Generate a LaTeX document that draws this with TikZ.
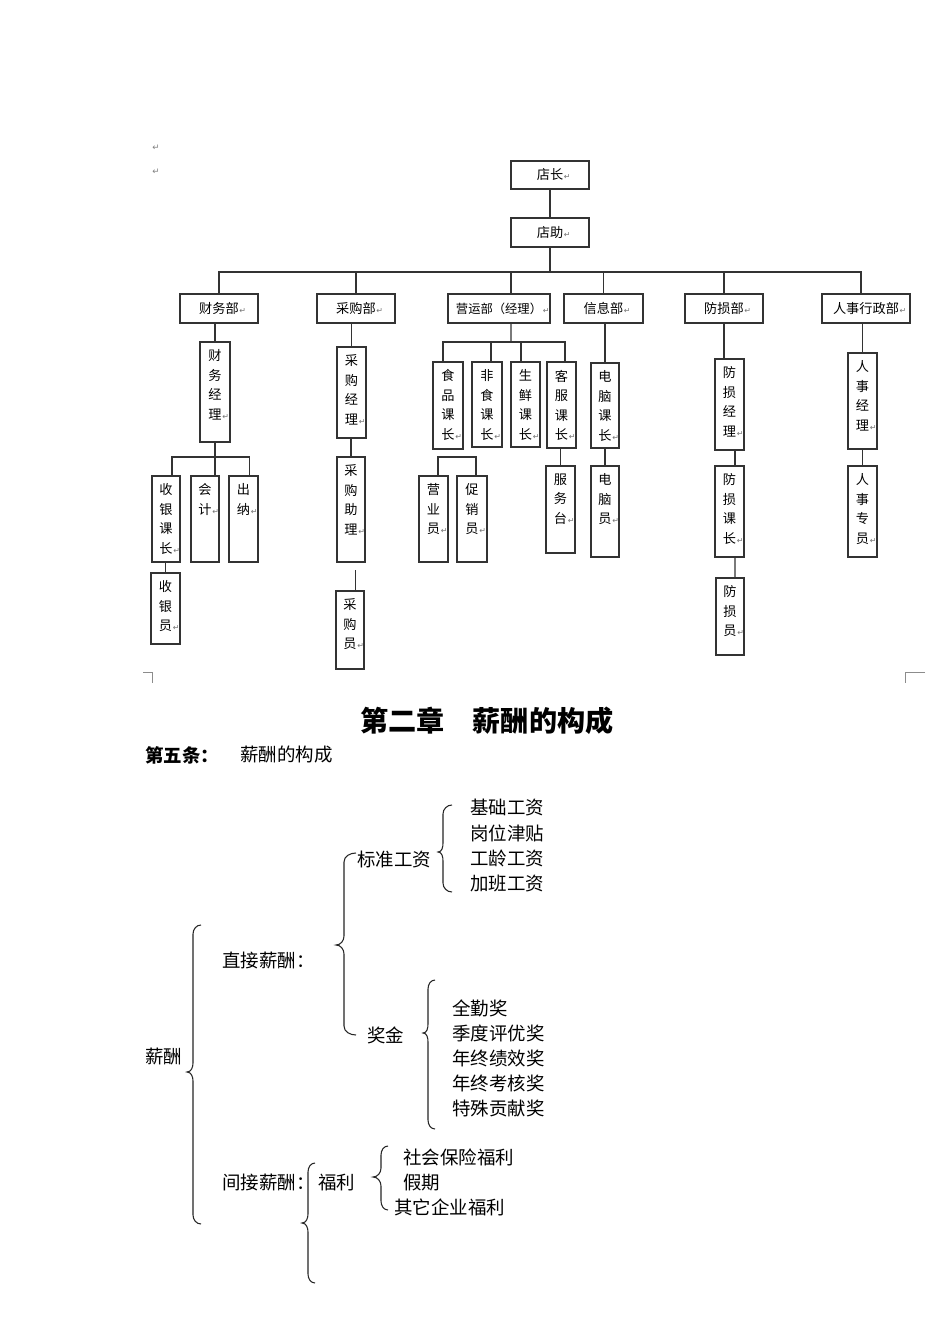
\documentclass[tikz,border=0pt]{standalone}
\usepackage{fontspec}
\usepackage{tikz}
\newfontfamily\cjk{Noto Sans CJK SC}
\newfontfamily\arrowfont{DejaVu Sans}

% paragraph mark that hangs after the text
\newcommand{\ret}{\rlap{\kern0.4pt\arrowfont\fontsize{4.5}{4.5}\selectfont\textcolor{black!55}{↵}}}

\tikzset{
  cell/.style={draw=black!80, line width=0.6pt, inner sep=0pt},
  hfont/.style={font=\cjk\fontsize{7.5}{9}\selectfont},
  vtxt/.style={anchor=north, inner sep=0pt, yshift=-0.16cm, align=center,
    font=\cjk\fontsize{7.5}{11.1}\selectfont},
  link/.style={draw=black!80, line width=0.6pt},
  brace/.style={draw=black!85, line width=0.6pt},
  body/.style={anchor=west, inner sep=0pt, font=\cjk\fontsize{10.5}{12}\selectfont},
  bodyb/.style={body, font=\cjk\bfseries\fontsize{10.5}{12}\selectfont},
  title/.style={anchor=west, inner sep=0pt, font=\cjk\bfseries\fontsize{16}{18}\selectfont},
  pmark/.style={inner sep=0pt, text=black!50, font=\arrowfont\fontsize{5}{5}\selectfont},
  corner/.style={draw=black!45, line width=0.5pt}
}

% name, x1, y1, x2, y2, text (pixels)
\newcommand{\hcell}[6]{%
  \node[cell, hfont, minimum width={(#4-#2)*0.02cm}, minimum height={(#5-#3)*0.02cm}]
    (#1) at ({(#2+#4)/2},{(#3+#5)/2}) {#6\ret};}
\newcommand{\vcell}[6]{%
  \node[cell, minimum width={(#4-#2)*0.02cm}, minimum height={(#5-#3)*0.02cm}]
    (#1) at ({(#2+#4)/2},{(#3+#5)/2}) {};
  \node[vtxt] (#1-t) at (#1.north) {#6\ret};}
% x of the curls, x of the stem, x of the tip, top, tip, bottom
\newcommand{\wbrace}[6]{%
  \draw[brace] (#1,#4) to[out=180,in=90] (#2,#4+9) -- (#2,#5-9)
    to[out=-90,in=0] (#3,#5) to[out=0,in=90] (#2,#5+9) -- (#2,#6-9)
    to[out=-90,in=180] (#1,#6);}

\begin{document}
\begin{tikzpicture}[x=0.02cm, y=-0.02cm]
\fill[white] (0,0) rectangle (950,1344);
\useasboundingbox (0,0) rectangle (950,1344);

\node[pmark] (p1) at (156,148) {↵};
\node[pmark] (p2) at (156,172) {↵};

% top of the chart
\hcell{dz}{511}{161}{589}{189}{店长}
\hcell{dzhu}{511}{218}{589}{247}{店助}
\hcell{cwb}{180}{294}{258}{323}{财务部}
\hcell{cgb}{317}{294}{395}{323}{采购部}
\hcell{yyb}{448}{294}{550}{323}{\fontsize{7}{9}\selectfont 营运部（经理）}
\hcell{xxb}{564}{294}{643}{323}{信息部}
\hcell{fsb}{685}{294}{763}{323}{防损部}
\hcell{rsb}{822}{294}{910}{323}{人事行政部}

\vcell{cwjl}{200}{342}{230}{442}{财\\务\\经\\理}
\vcell{syk}{152}{476}{180}{562}{收\\银\\课\\长}
\vcell{kj}{191}{476}{219}{562}{会\\计}
\vcell{cn}{229}{476}{258}{562}{出\\纳}
\vcell{syy}{151}{573}{180}{644}{收\\银\\员}

\vcell{cgjl}{337}{347}{366}{438}{采\\购\\经\\理}
\vcell{cgzl}{337}{457}{365}{562}{采\\购\\助\\理}
\vcell{cgy}{336}{591}{364}{669}{采\\购\\员}

\vcell{shipin}{433}{362}{463}{449}{食\\品\\课\\长}
\vcell{feishi}{472}{362}{502}{447}{非\\食\\课\\长}
\vcell{shengxian}{511}{362}{540}{447}{生\\鲜\\课\\长}
\vcell{kefu}{547}{362}{576}{448}{客\\服\\课\\长}
\vcell{fwt}{546}{466}{575}{553}{服\\务\\台}
\vcell{yyy}{419}{476}{448}{562}{营\\业\\员}
\vcell{cxy}{457}{476}{487}{562}{促\\销\\员}

\vcell{dnk}{591}{363}{619}{448}{电\\脑\\课\\长}
\vcell{dny}{591}{466}{619}{557}{电\\脑\\员}

\vcell{fsjl}{715}{359}{744}{450}{防\\损\\经\\理}
\vcell{fskz}{715}{466}{744}{557}{防\\损\\课\\长}
\vcell{fsy}{716}{578}{744}{655}{防\\损\\员}

\vcell{rsjl}{848}{353}{877}{449}{人\\事\\经\\理}
\vcell{rszy}{848}{466}{877}{557}{人\\事\\专\\员}

% connectors
\coordinate (bus) at (550,272);
\draw[link] (dz) -- (dzhu);
\draw[link] (dzhu.south) -- (bus);
\draw[link] (cwb.north) |- (bus) -| ([xshift=-0.1cm]rsb.north);
\foreach \d in {cgb,xxb,fsb}
  \draw[link] (\d.north) -- (\d.north |- bus);
\draw[link] ([xshift=0.24cm]yyb.north) |- (bus);

\coordinate (cwbus) at (213,457);
\draw[link] (cwjl.north) -- (cwjl.north |- cwb.south);
\draw[link] (cwjl.south) -- (cwjl.south |- kj.north);
\draw[link] ([xshift=0.12cm]syk.north) |- (cwbus) -| ([xshift=0.12cm]cn.north);
\draw[link] (syy.north) -- (syy.north |- syk.south);

\draw[link] (cgjl.north) -- (cgjl.north |- cgb.south);
\draw[link] (cgzl.north) -- (cgzl.north |- cgjl.south);
\draw[link] ([xshift=0.11cm]cgy.north) -- ++(0,-20);

\coordinate (yybus) at (511,342);
\draw[link] ([xshift=0.24cm]yyb.south) -- (yybus);
\draw[link] ([xshift=-0.1cm]shipin.north) |- (yybus) -| ([xshift=0.07cm]kefu.north);
\draw[link] ([xshift=0.08cm]feishi.north) |- (yybus);
\draw[link] ([xshift=-0.09cm]shengxian.north) |- (yybus);
\draw[link] (fwt.north) -- (fwt.north |- kefu.south);
\coordinate (yybus2) at (457,457);
\draw[link] ([xshift=0.09cm]yyy.north) |- (yybus2) -| ([xshift=0.08cm]cxy.north);

\draw[link] (dnk.north) -- (dnk.north |- xxb.south);
\draw[link] (dny.north) -- (dny.north |- dnk.south);

\draw[link] (fsb.south) -- (fsb.south |- fsjl.north);
\draw[link] ([xshift=0.11cm]fsjl.south) -- ([xshift=0.11cm]fskz.north);
\draw[link] ([xshift=0.11cm]fskz.south) -- ([xshift=0.1cm]fsy.north);

\draw[link] (rsjl.north) -- (rsjl.north |- rsb.south);
\draw[link] (rszy.north) -- (rszy.north |- rsjl.south);

\draw[corner] (143,672) -- (152,672) -- (152,683);
\draw[corner] (925,672) -- (905,672) -- (905,683);

% chapter two
\node[title] (ch) at (360,721) {第二章　薪酬的构成};
\node[bodyb] (art) at (145,755) {第五条：};
\node[body] (artt) at (240,755) {薪酬的构成};

\node[body] (xc) at (145,1057) {薪酬};
\node[body] (zj) at (222,960) {直接薪酬：};
\node[body] (bz) at (357,859) {标准工资};
\foreach \t [count=\i] in {基础工资,岗位津贴,工龄工资,加班工资}
  \node[body] (gz\i) at (470,{782.7+25.3*\i}) {\t};
\node[body] (jj) at (367,1035) {奖金};
\foreach \t [count=\i] in {全勤奖,季度评优奖,年终绩效奖,年终考核奖,特殊贡献奖}
  \node[body] (jj\i) at (452,{983+25*\i}) {\t};
\node[body] (jjx) at (222,1183) {间接薪酬：};
\node[body] (fl) at (318,1183) {福利};
\node[body] (fl1) at (403,1157) {社会保险福利};
\node[body] (fl2) at (403,1183) {假期};
\node[body] (fl3) at (394,1207) {其它企业福利};

\wbrace{201}{193}{187}{925}{1072}{1224}
\wbrace{356}{344}{336}{853}{945}{1035}
\wbrace{452}{443}{438}{805}{852}{892}
\wbrace{435}{428}{423}{980}{1033}{1129}
\wbrace{315}{308}{302}{1163}{1223}{1283}
\wbrace{388}{381}{373}{1146}{1177}{1210}
\end{tikzpicture}
\end{document}
